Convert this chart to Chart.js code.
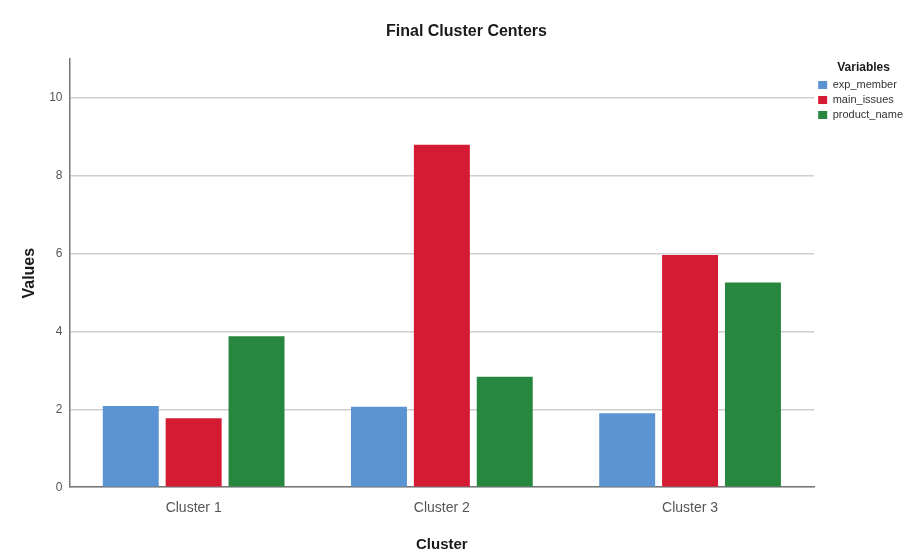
<!DOCTYPE html>
<html>
<head>
<meta charset="utf-8">
<title>Final Cluster Centers</title>
<script src="https://cdn.jsdelivr.net/npm/chart.js@4.4.0/dist/chart.umd.min.js"></script>
<style>
    html, body { margin: 0; padding: 0; background: #fff; }
    #wrap { width: 907px; height: 556px; }
</style>
</head>
<body>
<div id="wrap"><canvas id="myChart" width="907" height="556"></canvas></div>
<script>
var clusters = ['Cluster 1', 'Cluster 2', 'Cluster 3'];
var expMember = [2.09, 2.07, 1.90];
var mainIssues = [1.77, 8.80, 5.97];
var productName = [3.88, 2.84, 5.26];
var yTicks = [0, 2, 4, 6, 8, 10];

var fontName = '"Liberation Sans", Arial, sans-serif';

function chart() {
    var ctx = document.getElementById("myChart");
    var data = {
        labels: clusters,
        datasets: [{
            label: 'exp_member',
            data: expMember,
            backgroundColor: '#5b94d2'
        }, {
            label: 'main_issues',
            data: mainIssues,
            backgroundColor: '#d51a34'
        }, {
            label: 'product_name',
            data: productName,
            backgroundColor: '#27873f'
        }]
    };
    var myChart = new Chart(ctx, {
        type: 'bar',
        data: data,
        options: {
            responsive: false,
            animation: false,
            devicePixelRatio: 1,
            layout: { padding: { left: 20, right: -6, top: 0, bottom: 2 } },
            datasets: {
                bar: { categoryPercentage: 0.76, barPercentage: 0.89, borderWidth: 0 }
            },
            plugins: {
                title: {
                    display: true,
                    text: 'Final Cluster Centers',
                    color: '#1a1a1a',
                    font: { family: fontName, size: 16, weight: 'bold' },
                    padding: { top: 22, bottom: 18 }
                },
                legend: {
                    position: 'right',
                    align: 'start',
                    fullSize: false,
                    title: {
                        display: true,
                        text: 'Variables',
                        color: '#1a1a1a',
                        font: { family: fontName, size: 12, weight: 'bold' },
                        padding: { top: 2, bottom: 0 }
                    },
                    labels: {
                        boxWidth: 9,
                        boxHeight: 8,
                        padding: 4,
                        color: '#333',
                        font: { family: fontName, size: 11 }
                    }
                },
                tooltip: { enabled: false }
            },
            scales: {
                x: {
                    grid: { display: false },
                    border: { display: true, color: '#777', width: 1.5 },
                    ticks: {
                        color: '#555',
                        padding: 5,
                        font: { family: fontName, size: 14 }
                    },
                    title: {
                        display: true,
                        text: 'Cluster',
                        color: '#1a1a1a',
                        font: { family: fontName, size: 15, weight: 'bold' },
                        padding: { top: 14, bottom: 0 }
                    }
                },
                y: {
                    min: 0,
                    max: 11,
                    afterBuildTicks: function(scale) {
                        scale.ticks = yTicks.map(function(v) { return { value: v }; });
                    },
                    grid: { color: '#cfcfcf', lineWidth: 1.5, drawTicks: false },
                    border: { display: true, color: '#777', width: 1.5 },
                    ticks: {
                        color: '#555',
                        padding: 7,
                        font: { family: fontName, size: 12 }
                    },
                    title: {
                        display: true,
                        text: 'Values',
                        color: '#1a1a1a',
                        font: { family: fontName, size: 16, weight: 'bold' },
                        padding: { top: 0, bottom: 3 }
                    }
                }
            }
        }
    });
    return myChart;
}

chart();
</script>
</body>
</html>
